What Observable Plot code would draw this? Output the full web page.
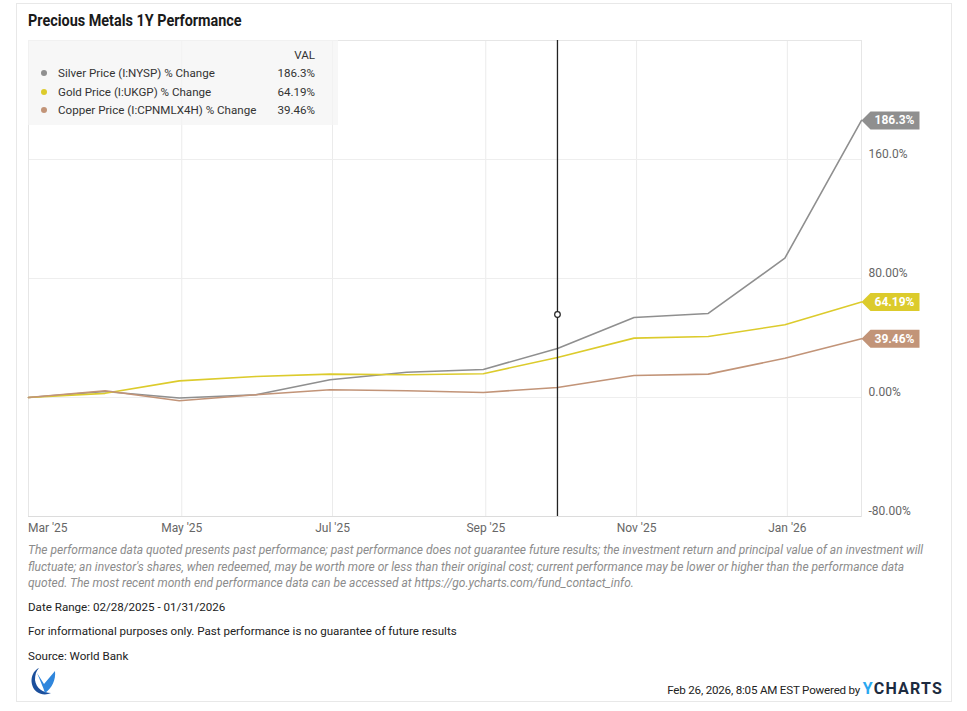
<!DOCTYPE html>
<html>
<head>
<meta charset="utf-8">
<script src="https://cdn.jsdelivr.net/npm/d3@7"></script>
<script src="https://cdn.jsdelivr.net/npm/@observablehq/plot@0.6"></script>
<style>
  body { margin:0; background:#fff; font-family: Roboto, "Noto Sans", sans-serif; width:967px; height:711px; overflow:hidden; position:relative; }
  .abs { position:absolute; white-space:nowrap; }
  #card { position:absolute; left:16px; top:3px; width:936px; height:699px; border:1px solid #e8e8e8; box-sizing:border-box; }
  #legend { position:absolute; left:28px; top:40px; width:310px; height:85px; background:rgba(244,244,244,0.75); font-size:11.6px; color:#333; }
  #legend .row { position:absolute; left:0; width:310px; height:16px; line-height:16px; }
  #legend .dot { position:absolute; left:13px; top:5px; width:6px; height:6px; border-radius:50%; }
  #legend .name { position:absolute; left:30px; }
  #legend .val { position:absolute; right:23px; }
  .disc { font-size:12px; font-style:italic; color:#8c8c8c; }
  .foot { font-size:11.6px; color:#222; }
</style>
</head>
<body>
<div id="card"></div>
<div class="abs" style="left:28px;top:11px;font-size:16px;font-weight:700;color:#1a1a1a;line-height:20px;transform:scaleX(0.9);transform-origin:left center;">Precious Metals 1Y Performance</div>
<div id="chart" class="abs" style="left:0;top:30px;"></div>
<div id="legend"></div>
<div class="abs disc" style="left:28px;top:542px;line-height:16.5px;" id="disc"></div>
<div class="abs foot" style="left:28px;top:599px;line-height:16px;">Date Range: 02/28/2025 - 01/31/2026</div>
<div class="abs foot" style="left:28px;top:623px;line-height:16px;">For informational purposes only. Past performance is no guarantee of future results</div>
<div class="abs foot" style="left:28px;top:648px;line-height:16px;">Source: World Bank</div>
<svg class="abs" style="left:28px;top:665px;" width="32" height="32" viewBox="0 0 32 32">
  <path d="M11 3 C2 7 1 21 9 27 C13 30 19 30 23 28 C15 28 8 23 7 15 C7 10 8 6 11 3 Z" fill="#1b4f9c"/>
  <path d="M9 8 L16 19 L27 6 C28 15 24 23 17 28 C15 22 12 15 9 8 Z" fill="#2f86dc"/>
</svg>
<div class="abs foot" style="right:24px;top:680px;line-height:18px;letter-spacing:-0.2px;">Feb 26, 2026, 8:05 AM EST Powered by <span style="font-size:16px;font-weight:700;letter-spacing:1.2px;"><span style="color:#2aa8f0">Y</span><span style="color:#1d2b40">CHARTS</span></span></div>
<script>
// ---- data ----
const dates = ["2025-02-28","2025-03-31","2025-04-30","2025-05-31","2025-06-30","2025-07-31","2025-08-31","2025-09-30","2025-10-31","2025-11-30","2025-12-31","2026-01-31"];
const silver = [0, 4.0, -0.3, 1.8, 11.9, 17.0, 18.8, 33.0, 53.8, 56.5, 93.7, 186.3];
const gold   = [0, 2.8, 11.2, 14.1, 15.7, 15.3, 16.0, 26.9, 39.9, 41.0, 48.9, 64.19];
const copper = [0, 4.5, -2.2, 1.8, 5.2, 4.5, 3.4, 6.7, 14.8, 15.7, 26.4, 39.46];
const seriesNames = ["Silver Price (I:NYSP) % Change", "Gold Price (I:UKGP) % Change", "Copper Price (I:CPNMLX4H) % Change"];
const seriesLabels = ["186.3%", "64.19%", "39.46%"];
const seriesColors = ["#8f8f8f", "#dccb2c", "#c29478"];
const yTicks = [-80, 0, 80, 160];
const yTickLabels = ["-80.00%", "0.00%", "80.00%", "160.0%"];
const xTicks = ["2025-03-01","2025-05-01","2025-07-01","2025-09-01","2025-11-01","2026-01-01"];
const xTickLabels = ["Mar '25","May '25","Jul '25","Sep '25","Nov '25","Jan '26"];
const hoverDate = "2025-09-30";
const hoverValue = 55.8;

const disclaimer = [
  "The performance data quoted presents past performance; past performance does not guarantee future results; the investment return and principal value of an investment will",
  "fluctuate; an investor's shares, when redeemed, may be worth more or less than their original cost; current performance may be lower or higher than the performance data",
  "quoted. The most recent month end performance data can be accessed at https://go.ycharts.com/fund_contact_info."
];
document.getElementById("disc").innerHTML = disclaimer.join("<br>");

// ---- build table ----
const parse = d3.utcParse("%Y-%m-%d");
const allSeries = [silver, gold, copper];
const rows = [];
allSeries.forEach((vals, i) => vals.forEach((v, j) => rows.push({date: parse(dates[j]), value: v, series: seriesNames[i]})));
const last = allSeries.map((vals, i) => ({date: parse(dates[dates.length-1]), value: vals[vals.length-1], label: seriesLabels[i], color: seriesColors[i]}));
const xt = xTicks.map(parse);
const xLabel = new Map(xt.map((d, i) => [+d, xTickLabels[i]]));
const yLabel = new Map(yTicks.map((d, i) => [d, yTickLabels[i]]));

// arrow-tag symbol: tip at origin, box to the right
const tagSymbol = {
  draw(ctx) {
    ctx.moveTo(0, 0);
    ctx.lineTo(9, -9);
    ctx.lineTo(58, -9);
    ctx.lineTo(58, 9);
    ctx.lineTo(9, 9);
    ctx.closePath();
  }
};

const plot = Plot.plot({
  width: 967,
  height: 508,
  marginLeft: 28,
  marginRight: 106,
  marginTop: 10,
  marginBottom: 22,
  style: {fontFamily: "Roboto, sans-serif", fontSize: "12px", background: "transparent"},
  x: {type: "utc", domain: [parse(dates[0]), parse(dates[dates.length-1])], label: null},
  y: {domain: [-80, 240], label: null},
  color: {domain: seriesNames, range: seriesColors},
  marks: [
    Plot.gridX(xt.slice(1), {stroke: "#ebebeb", strokeOpacity: 1}),
    Plot.gridY([0, 80, 160], {stroke: "#eeeeee", strokeOpacity: 1}),
    Plot.frame({stroke: "#e6e6e6"}),
    Plot.ruleY([-80], {stroke: "#dcdcdc"}),
    Plot.axisY(yTicks, {anchor: "right", label: null, tickSize: 0, tickPadding: 7, dy: -5, tickFormat: d => yLabel.get(d), fill: "#666", fontSize: 12, textAnchor: "start"}),
    Plot.axisX(xt.slice(0, 1), {anchor: "bottom", label: null, tickSize: 0, tickPadding: 7, tickFormat: d => xLabel.get(+d), fill: "#666", fontSize: 12, textAnchor: "start", dx: -3}),
    Plot.axisX(xt.slice(1), {anchor: "bottom", label: null, tickSize: 0, tickPadding: 7, tickFormat: d => xLabel.get(+d), fill: "#666", fontSize: 12}),
    Plot.line(rows, {x: "date", y: "value", z: "series", stroke: "series", strokeWidth: 1.6, curve: "linear"}),
    Plot.ruleX([parse(hoverDate)], {stroke: "#222", strokeWidth: 1.3}),
    Plot.dot([{date: parse(hoverDate), value: hoverValue}], {x: "date", y: "value", r: 2.8, fill: "white", stroke: "#222", strokeWidth: 1.2}),
    Plot.dot(last, {x: "date", y: "value", symbol: tagSymbol, fill: "color", stroke: null, r: 5}),
    Plot.text(last, {x: "date", y: "value", text: "label", dx: 33, fill: "white", fontWeight: 700, fontSize: 12})
  ]
});
document.getElementById("chart").appendChild(plot);

// ---- legend ----
const lg = document.getElementById("legend");
const hdr = document.createElement("div");
hdr.className = "row"; hdr.style.top = "7px";
hdr.innerHTML = `<span class="val">VAL</span>`;
lg.appendChild(hdr);
seriesNames.forEach((n, i) => {
  const r = document.createElement("div");
  r.className = "row";
  r.style.top = (25 + i * 18.5) + "px";
  r.innerHTML = `<span class="dot" style="background:${seriesColors[i]}"></span><span class="name">${n}</span><span class="val">${seriesLabels[i]}</span>`;
  lg.appendChild(r);
});
</script>
</body>
</html>
